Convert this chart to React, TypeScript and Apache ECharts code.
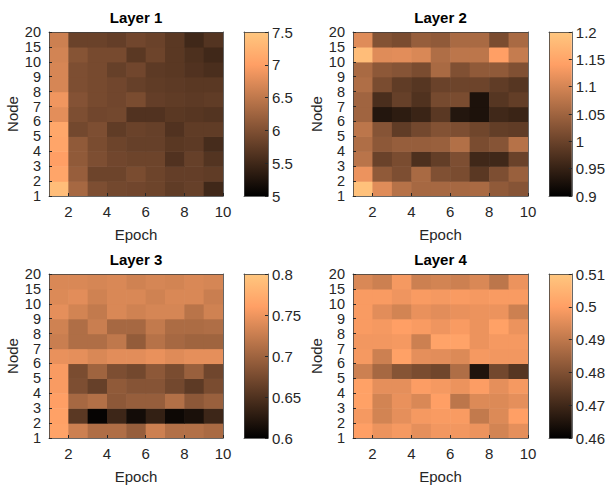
import React, { useEffect, useRef } from "react";
import * as echarts from "echarts";

// Epoch grid (cell corners) and node tick labels
const epochTicks = [2, 4, 6, 8, 10];
const nodeLabels = ["1", "2", "3", "4", "5", "6", "7", "8", "9", "10", "15", "20"];
const layerTitles = ["Layer 1", "Layer 2", "Layer 3", "Layer 4"];

// Rows from node 1 (bottom) upward; 9 columns (epoch 1..9 corners)
const layer1Values = [
  [7.38, 6.30, 5.98, 5.90, 5.88, 5.85, 5.75, 5.80, 5.50],
  [7.08, 6.18, 5.85, 5.85, 5.95, 5.85, 5.78, 5.78, 5.75],
  [7.00, 6.13, 5.98, 5.88, 5.85, 5.85, 5.63, 5.80, 5.65],
  [7.08, 6.13, 5.95, 5.85, 5.80, 5.80, 5.70, 5.73, 5.55],
  [7.10, 5.90, 5.98, 5.75, 5.83, 5.80, 5.63, 5.75, 5.75],
  [6.78, 5.98, 5.88, 5.90, 5.63, 5.63, 5.70, 5.68, 5.65],
  [6.88, 6.03, 5.93, 5.88, 5.95, 5.78, 5.75, 5.73, 5.75],
  [6.68, 5.98, 5.93, 5.88, 5.80, 5.75, 5.73, 5.70, 5.70],
  [6.68, 5.98, 5.93, 5.80, 5.88, 5.73, 5.70, 5.63, 5.58],
  [6.65, 6.05, 5.93, 5.93, 5.70, 5.85, 5.70, 5.60, 5.50],
  [6.60, 5.83, 5.83, 5.78, 5.88, 5.83, 5.70, 5.50, 5.65],
];
const layer2Values = [
  [1.191, 1.110, 1.071, 1.056, 1.056, 1.056, 1.059, 1.035, 1.026],
  [1.122, 1.035, 1.017, 1.059, 1.020, 1.014, 0.984, 1.017, 1.044],
  [1.074, 0.999, 1.014, 0.972, 0.993, 1.017, 0.960, 0.960, 0.999],
  [1.065, 1.032, 1.041, 1.041, 1.044, 1.068, 1.014, 1.026, 1.071],
  [1.077, 1.026, 0.990, 1.008, 1.023, 1.017, 1.005, 0.993, 0.990],
  [1.050, 0.933, 0.942, 0.954, 0.984, 0.933, 0.927, 0.960, 0.954],
  [1.050, 0.969, 0.996, 0.975, 1.011, 1.014, 0.927, 0.981, 0.993],
  [1.065, 1.014, 0.990, 0.981, 0.999, 1.002, 1.002, 0.990, 0.981],
  [1.059, 1.032, 1.026, 1.014, 1.059, 1.020, 1.035, 1.035, 1.020],
  [1.185, 1.110, 1.113, 1.104, 1.065, 1.077, 1.077, 1.140, 1.086],
  [1.110, 1.023, 1.014, 1.041, 1.035, 1.059, 1.059, 1.014, 1.059],
];
const layer3Values = [
  [0.764, 0.728, 0.710, 0.710, 0.694, 0.728, 0.712, 0.712, 0.706],
  [0.762, 0.656, 0.604, 0.638, 0.612, 0.632, 0.608, 0.616, 0.638],
  [0.760, 0.704, 0.712, 0.688, 0.694, 0.694, 0.712, 0.688, 0.696],
  [0.756, 0.678, 0.664, 0.690, 0.684, 0.684, 0.672, 0.658, 0.676],
  [0.756, 0.676, 0.700, 0.678, 0.672, 0.688, 0.676, 0.696, 0.670],
  [0.746, 0.744, 0.736, 0.742, 0.742, 0.746, 0.740, 0.744, 0.744],
  [0.726, 0.710, 0.710, 0.720, 0.692, 0.714, 0.704, 0.700, 0.700],
  [0.730, 0.710, 0.726, 0.704, 0.704, 0.722, 0.708, 0.708, 0.710],
  [0.744, 0.732, 0.722, 0.736, 0.730, 0.734, 0.734, 0.716, 0.730],
  [0.738, 0.742, 0.730, 0.736, 0.736, 0.730, 0.736, 0.736, 0.726],
  [0.736, 0.736, 0.734, 0.736, 0.730, 0.734, 0.732, 0.736, 0.734],
];
const layer4Values = [
  [0.5000, 0.4970, 0.4985, 0.4960, 0.4980, 0.4980, 0.4970, 0.4930, 0.4960],
  [0.4985, 0.4930, 0.4960, 0.4985, 0.4990, 0.4990, 0.4905, 0.4945, 0.5000],
  [0.5005, 0.4930, 0.4965, 0.4940, 0.5000, 0.4895, 0.4945, 0.4945, 0.4960],
  [0.5005, 0.4960, 0.4960, 0.4995, 0.4985, 0.4970, 0.4995, 0.4960, 0.4985],
  [0.4920, 0.4860, 0.4810, 0.4790, 0.4775, 0.4875, 0.4650, 0.4780, 0.4735],
  [0.4985, 0.4920, 0.5005, 0.4960, 0.4955, 0.4945, 0.4985, 0.4980, 0.4980],
  [0.4980, 0.4980, 0.4985, 0.4920, 0.5010, 0.5010, 0.4970, 0.4985, 0.4985],
  [0.4990, 0.4985, 0.5000, 0.4990, 0.4975, 0.4990, 0.4970, 0.5005, 0.4970],
  [0.4990, 0.4955, 0.4930, 0.4965, 0.4955, 0.4965, 0.4970, 0.4970, 0.4920],
  [0.4990, 0.4990, 0.4975, 0.4990, 0.4985, 0.4990, 0.4985, 0.4990, 0.4990],
  [0.4940, 0.4920, 0.4985, 0.4920, 0.4930, 0.4920, 0.4940, 0.4895, 0.4970],
];

// Colorbar ranges: [min, max, step]
const colorbarMin = [5, 0.9, 0.6, 0.46];
const colorbarMax = [7.5, 1.2, 0.8, 0.51];
const colorbarStep = [0.5, 0.05, 0.05, 0.01];

// MATLAB "copper" colormap, sampled at 0, .2, .4, .6, .8, 1
const copper = ["#000000", "#402819", "#805033", "#bf784c", "#ff9f65", "#ffc77f"];

const FONT = "'Liberation Sans', Arial, Helvetica, sans-serif";
const TXT = "#262626";
const LINE = "#404040";

export default function App() {
  const ref = useRef<HTMLDivElement>(null);

  useEffect(() => {
    if (!ref.current) return;
    const chart = echarts.init(ref.current, null, { renderer: "svg" });
    const layers = [layer1Values, layer2Values, layer3Values, layer4Values];
    const panels = [
      { left: 49, top: 32, width: 174, height: 164, cbLeft: 244 },
      { left: 353, top: 32, width: 175, height: 164, cbLeft: 549 },
      { left: 49, top: 274, width: 174, height: 164, cbLeft: 244 },
      { left: 353, top: 274, width: 175, height: 164, cbLeft: 549 },
    ];
    const grids: any[] = [];
    const xAxes: any[] = [];
    const yAxes: any[] = [];
    const series: any[] = [];
    const visualMaps: any[] = [];
    const titles: any[] = [];
    const lineOnly = (extra: any) => ({
      type: "value",
      axisLine: { show: true, onZero: false, lineStyle: { color: LINE, width: 0.8 } },
      axisTick: { show: false },
      axisLabel: { show: false },
      splitLine: { show: false },
      z: 5,
      ...extra,
    });
    const stops = copper.map((c, i) => ({ offset: i / (copper.length - 1), color: c }));

    panels.forEach((p, i) => {
      const g = grids.length;
      grids.push({ left: p.left, top: p.top, width: p.width, height: p.height });
      grids.push({ left: p.cbLeft, top: p.top, width: 24, height: p.height });
      const cg = g + 1;

      titles.push({
        text: layerTitles[i],
        left: p.left + p.width / 2,
        top: p.top - 22,
        textAlign: "center",
        padding: 0,
        textStyle: { fontFamily: FONT, fontSize: 15, fontWeight: "bold", color: "#000" },
      });

      const xi = xAxes.length;
      xAxes.push({
        type: "value",
        gridIndex: g,
        min: 1,
        max: 10,
        position: "bottom",
        axisLine: { show: true, onZero: false, lineStyle: { color: LINE, width: 0.8 } },
        axisTick: { show: true, inside: true, length: 3, customValues: epochTicks, lineStyle: { color: TXT } },
        axisLabel: { customValues: epochTicks, fontFamily: FONT, fontSize: 15, color: TXT, margin: 8 },
        splitLine: { show: false },
        name: "Epoch",
        nameLocation: "middle",
        nameGap: 31,
        nameTextStyle: { fontFamily: FONT, fontSize: 15, color: TXT },
        z: 5,
      });
      xAxes.push(lineOnly({ gridIndex: g, min: 1, max: 10, position: "top" }));
      const cxi = xAxes.length;
      xAxes.push(lineOnly({ gridIndex: cg, min: 0, max: 1, position: "bottom" }));
      xAxes.push(lineOnly({ gridIndex: cg, min: 0, max: 1, position: "top" }));

      const yi = yAxes.length;
      yAxes.push({
        type: "value",
        gridIndex: g,
        min: 1,
        max: 12,
        interval: 1,
        position: "left",
        axisLine: { show: true, onZero: false, lineStyle: { color: LINE, width: 0.8 } },
        axisTick: { show: true, inside: true, length: 3, lineStyle: { color: TXT } },
        axisLabel: {
          fontFamily: FONT,
          fontSize: 14.5,
          lineHeight: 14,
          color: TXT,
          margin: 8,
          formatter: (v: number) => nodeLabels[Math.round(v) - 1] ?? "",
        },
        splitLine: { show: false },
        name: "Node",
        nameLocation: "middle",
        nameRotate: 90,
        nameGap: 29,
        nameTextStyle: { fontFamily: FONT, fontSize: 15, color: TXT },
        z: 5,
      });
      yAxes.push(lineOnly({ gridIndex: g, min: 1, max: 12, position: "right" }));
      const cyi = yAxes.length;
      yAxes.push({
        type: "value",
        gridIndex: cg,
        min: colorbarMin[i],
        max: colorbarMax[i],
        interval: colorbarStep[i],
        position: "right",
        axisLine: { show: true, onZero: false, lineStyle: { color: LINE, width: 0.8 } },
        axisTick: { show: true, inside: true, length: 3, lineStyle: { color: TXT } },
        axisLabel: {
          fontFamily: FONT,
          fontSize: 15,
          lineHeight: 15,
          color: TXT,
          margin: 4,
          formatter: (v: number) => String(parseFloat(v.toFixed(3))),
        },
        splitLine: { show: false },
        z: 5,
      });
      yAxes.push(lineOnly({ gridIndex: cg, min: colorbarMin[i], max: colorbarMax[i], position: "left" }));

      const data: number[][] = [];
      layers[i].forEach((row, r) => row.forEach((v, c) => data.push([c + 1, r + 1, v])));
      const si = series.length;
      series.push({
        type: "custom",
        xAxisIndex: xi,
        yAxisIndex: yi,
        clip: true,
        encode: { x: 0, y: 1 },
        data,
        renderItem: (params: any, api: any) => {
          const x = api.value(0);
          const y = api.value(1);
          const p0 = api.coord([x, y]);
          const p1 = api.coord([x + 1, y + 1]);
          return {
            type: "rect",
            shape: { x: p0[0], y: p1[1], width: p1[0] - p0[0] + 0.6, height: p0[1] - p1[1] + 0.6 },
            style: { fill: api.visual("color") },
          };
        },
      });
      visualMaps.push({
        type: "continuous",
        show: false,
        seriesIndex: si,
        dimension: 2,
        min: colorbarMin[i],
        max: colorbarMax[i],
        inRange: { color: copper },
      });
      series.push({
        type: "custom",
        xAxisIndex: cxi,
        yAxisIndex: cyi,
        encode: { x: [0, 2], y: [1, 3] },
        data: [[0, colorbarMin[i], 1, colorbarMax[i]]],
        renderItem: (params: any, api: any) => {
          const p0 = api.coord([api.value(0), api.value(1)]);
          const p1 = api.coord([api.value(2), api.value(3)]);
          return {
            type: "rect",
            shape: { x: p0[0], y: p1[1], width: p1[0] - p0[0], height: p0[1] - p1[1] },
            style: { fill: new echarts.graphic.LinearGradient(0, 1, 0, 0, stops) },
          };
        },
      });
    });

    chart.setOption({
      animation: false,
      backgroundColor: "#ffffff",
      title: titles,
      grid: grids,
      xAxis: xAxes,
      yAxis: yAxes,
      visualMap: visualMaps,
      series,
    });
    return () => chart.dispose();
  }, []);

  return (
    <div
      ref={ref}
      style={{ position: "absolute", left: 0, top: 0, width: 608, height: 487 }}
    />
  );
}
